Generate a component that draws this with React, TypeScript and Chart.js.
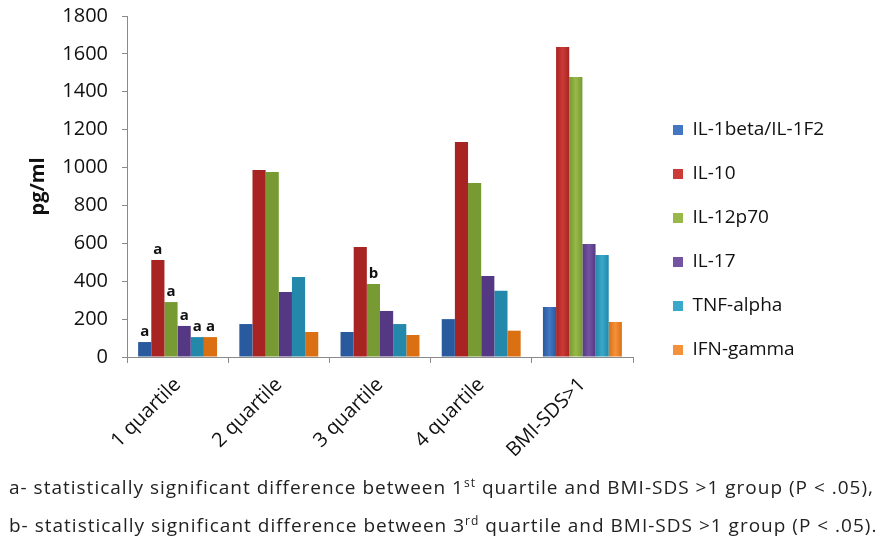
import { Chart, registerables } from "chart.js";
import { useEffect, useRef } from "react";
Chart.register(...registerables);

const categories = ["1 quartile", "2 quartile", "3 quartile", "4 quartile", "BMI-SDS>1"];
const seriesNames = ["IL-1beta/IL-1F2", "IL-10", "IL-12p70", "IL-17", "TNF-alpha", "IFN-gamma"];

const il1beta = [79, 174, 132, 200, 264];
const il10 = [512, 987, 581, 1135, 1637];
const il12p70 = [290, 977, 385, 919, 1478];
const il17 = [164, 343, 243, 428, 596];
const tnfAlpha = [105, 422, 174, 350, 538];
const ifnGamma = [105, 132, 116, 139, 185];

// significance letters drawn above bars
const il1betaMarks = ["a", "", "", "", ""];
const il10Marks = ["a", "", "", "", ""];
const il12p70Marks = ["a", "", "b", "", ""];
const il17Marks = ["a", "", "", "", ""];
const tnfAlphaMarks = ["a", "", "", "", ""];
const ifnGammaMarks = ["a", "", "", "", ""];

const yTicks = [0, 200, 400, 600, 800, 1000, 1200, 1400, 1600, 1800];

const seriesValues = [il1beta, il10, il12p70, il17, tnfAlpha, ifnGamma];
const seriesMarks = [il1betaMarks, il10Marks, il12p70Marks, il17Marks, tnfAlphaMarks, ifnGammaMarks];
const midColors = ["#4377C2", "#CC3B38", "#98B949", "#7453A3", "#3AA8CA", "#F5913A"];
const edgeColors = ["#2A5A9E", "#A82422", "#779A32", "#553884", "#2388AA", "#DA7012"];

const FONT = "'Open Sans', sans-serif";
const LEGEND_SIZE = 19;
const LEGEND_PAD = 25;
const PLOT_RIGHT = 633;
const LEGEND_GAP = 15;

const shadePlugin = {
  id: "shade",
  beforeDatasetsDraw(chart: any) {
    const ctx = chart.ctx;
    chart.data.datasets.forEach((_ds: any, di: number) => {
      const meta = chart.getDatasetMeta(di);
      meta.data.forEach((bar: any) => {
        const { x, width } = bar.getProps(["x", "width"], true);
        const g = ctx.createLinearGradient(x - width / 2, 0, x + width / 2, 0);
        g.addColorStop(0, edgeColors[di]);
        g.addColorStop(0.5, midColors[di]);
        g.addColorStop(1, edgeColors[di]);
        bar.options.backgroundColor = g;
      });
    });
  },
};

const markPlugin = {
  id: "marks",
  afterDatasetsDraw(chart: any) {
    const ctx = chart.ctx;
    ctx.save();
    ctx.font = `bold 15px ${FONT}`;
    ctx.fillStyle = "#111";
    ctx.textAlign = "center";
    ctx.textBaseline = "bottom";
    seriesMarks.forEach((marks, di) => {
      const meta = chart.getDatasetMeta(di);
      marks.forEach((m, i) => {
        if (!m) return;
        const bar = meta.data[i];
        ctx.fillText(m, bar.x, bar.y - 3);
      });
    });
    ctx.restore();
  },
};

// leave a small gap between the plot and the legend
const legendShift = {
  id: "legendShift",
  afterLayout(chart: any) {
    const lg = chart.legend;
    if (!lg) return;
    lg.left += LEGEND_GAP;
    lg.right += LEGEND_GAP;
    lg.top -= 3;
    lg.bottom -= 3;
  },
};

const CytokineChart = () => {
  const ref = useRef<null | HTMLCanvasElement>(null);
  useEffect(() => {
    document.body.style.margin = "0";
    if (!ref.current) return;
    const ctx = ref.current.getContext("2d");
    if (!ctx) throw new Error("Canvas Error: Ctx not available");
    ctx.font = `${LEGEND_SIZE}px ${FONT}`;
    const textW = Math.max(...seriesNames.map((n) => ctx.measureText(n).width));
    const legendW = LEGEND_PAD + 10 + LEGEND_SIZE / 2 + textW + 10;
    const rightPad = ctx.canvas.width - PLOT_RIGHT - legendW;
    const chart = new Chart(ctx, {
      type: "bar",
      data: {
        labels: categories,
        datasets: seriesNames.map((name, i) => ({
          label: name,
          data: seriesValues[i],
          backgroundColor: midColors[i],
          borderWidth: 0,
          barPercentage: 1,
          categoryPercentage: 0.78,
        })),
      },
      options: {
        animation: false,
        responsive: false,
        layout: { padding: { top: 16, right: rightPad, bottom: 0, left: 0 } },
        plugins: {
          tooltip: { enabled: false },
          legend: {
            position: "right",
            align: "center",
            labels: {
              boxWidth: 10,
              boxHeight: 10,
              padding: LEGEND_PAD,
              color: "#111",
              font: { family: FONT, size: LEGEND_SIZE },
            },
          },
        },
        scales: {
          x: {
            grid: { drawOnChartArea: false, drawTicks: true, tickLength: 6, color: "#8a8a8a" },
            border: { color: "#8a8a8a" },
            ticks: {
              minRotation: 45,
              maxRotation: 45,
              color: "#111",
              font: { family: FONT, size: 20 },
              padding: 10,
            },
            afterFit: (s: any) => {
              s.height = 113;
            },
          },
          y: {
            min: 0,
            max: 1800,
            afterBuildTicks: (s: any) => {
              s.ticks = yTicks.map((v) => ({ value: v }));
            },
            grid: { drawOnChartArea: false, drawTicks: true, tickLength: 5, color: "#8a8a8a" },
            border: { color: "#8a8a8a" },
            ticks: {
              color: "#111",
              font: { family: FONT, size: 20 },
              padding: 14,
              callback: (v: any) => String(v),
            },
            title: {
              display: true,
              text: "pg/ml",
              color: "#111",
              font: { family: FONT, size: 20, weight: "bold" },
              padding: { top: 26, bottom: 0 },
            },
            afterFit: (s: any) => {
              s.width = 127;
              s.paddingTop = 0;
              s.paddingBottom = 0;
            },
          },
        },
      },
      plugins: [shadePlugin, markPlugin, legendShift],
    });
    return () => chart.destroy();
  }, []);

  return (
    <div style={{ position: "relative", width: 886, height: 539, background: "#fff" }}>
      <canvas ref={ref} width={886} height={470} style={{ display: "block" }}></canvas>
      <div
        style={{
          position: "absolute",
          left: 9,
          top: 466,
          fontFamily: FONT,
          fontSize: 19,
          lineHeight: "34px",
          letterSpacing: "1px",
          color: "#222",
          whiteSpace: "nowrap",
        }}
      >
        <div>
          a- statistically significant difference between 1<sup style={{ fontSize: 12 }}>st</sup> quartile and
          BMI-SDS &gt;1 group (P &lt; .05),
        </div>
        <div>
          b- statistically significant difference between 3<sup style={{ fontSize: 12 }}>rd</sup> quartile and
          BMI-SDS &gt;1 group (P &lt; .05).
        </div>
      </div>
    </div>
  );
};

export default CytokineChart;
